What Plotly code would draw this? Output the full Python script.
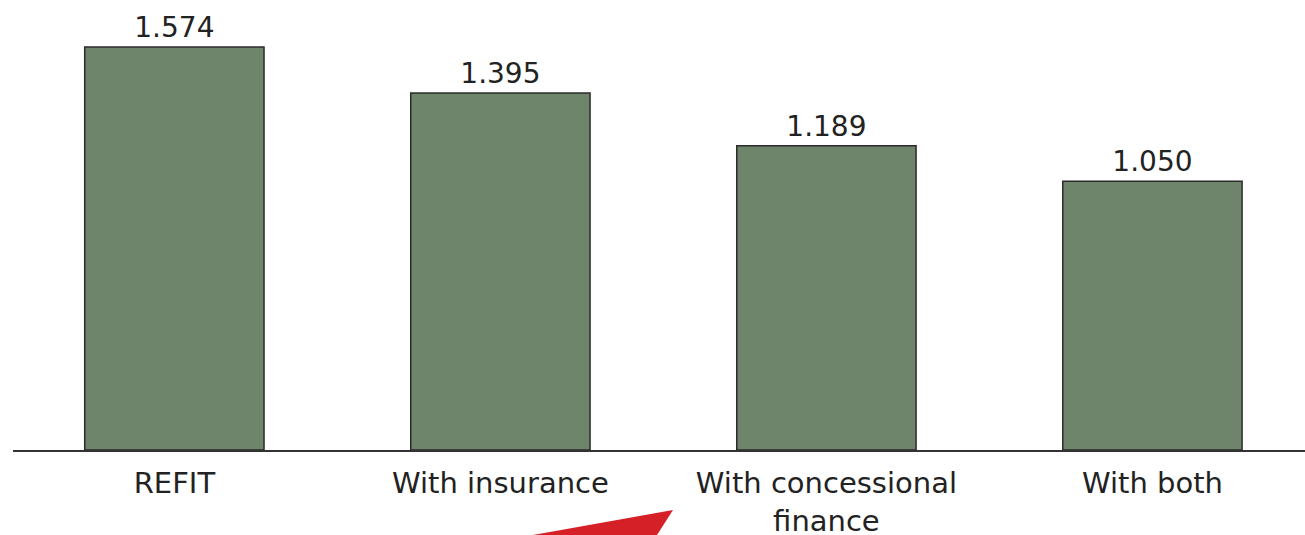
import plotly.graph_objects as go

categories = ["REFIT", "With insurance", "With concessional<br>finance", "With both"]
values = [1.574, 1.395, 1.189, 1.050]
value_labels = ["1.574", "1.395", "1.189", "1.050"]

bar_color = "#6f856b"
text_color = "#222222"
FONT = "DejaVu Sans"

fig = go.Figure()
fig.add_trace(go.Bar(
    x=list(range(len(categories))),
    y=values,
    width=0.55,
    marker=dict(color=bar_color, line=dict(color="#2b2b2b", width=1.5)),
    text=value_labels,
    textposition="outside",
    textfont=dict(family=FONT, size=28, color=text_color),
    cliponaxis=False,
    hoverinfo="skip",
))

W, H = 1305, 535
L, B = 13, 85
def px(x):
    return (x - L) / (W - L)
def py(y):
    return (H - B - y) / (H - B)

# red wedge artifact at bottom
path = f"M {px(533)} {py(535)} L {px(673)} {py(510)} L {px(657)} {py(535)} Z"
fig.add_shape(type="path", xref="paper", yref="paper", path=path,
              fillcolor="#d62027", line=dict(width=0), layer="above")

fig.update_layout(
    width=W, height=H,
    margin=dict(l=L, r=0, t=0, b=B),
    paper_bgcolor="white", plot_bgcolor="white",
    showlegend=False,
    font=dict(family=FONT, size=28, color=text_color),
    xaxis=dict(
        tickmode="array", tickvals=list(range(len(categories))), ticktext=categories,
        range=[-0.495, 3.468],
        showline=True, linecolor="#333333", linewidth=2,
        showgrid=False, zeroline=False, ticks="",
        ticklabelstandoff=6,
        automargin=False,
        tickfont=dict(family=FONT, size=29, color=text_color),
        fixedrange=True,
    ),
    yaxis=dict(range=[0, 1.758], visible=False, showgrid=False, zeroline=False,
               automargin=False, fixedrange=True),
)

fig.write_html("out.html", config={"displayModeBar": False})
